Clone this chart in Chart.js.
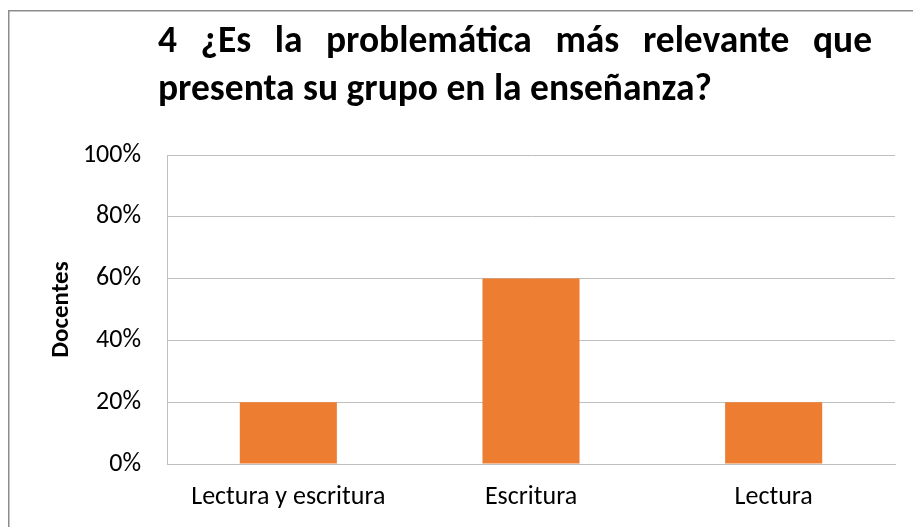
<!DOCTYPE html>
<html>
<head>
<meta charset="utf-8">
<script src="https://cdn.jsdelivr.net/npm/chart.js@4"></script>
<style>
    html, body { margin: 0; padding: 0; background: #fff; }
    #wrap { width: 913px; height: 527px; position: relative; }
</style>
</head>
<body>
<div id="wrap"><canvas id="chart" width="913" height="527"></canvas></div>
<script>
// Chart data
const categories = ['Lectura y escritura', 'Escritura', 'Lectura'];
const docentes = [20, 60, 20];
const yTicks = [0, 20, 40, 60, 80, 100];
const titleLines = ['4 ¿Es la problemática más relevante que', 'presenta su grupo en la enseñanza?'];

const FONT = "Carlito, Calibri, Lato, 'Open Sans', sans-serif";

// frame around the whole chart + justified title
const framePlugin = {
    id: 'frame',
    beforeDraw(chart) {
        const ctx = chart.ctx;
        ctx.save();
        ctx.strokeStyle = '#8c8c8c';
        ctx.lineWidth = 1.5;
        ctx.strokeRect(8.75, 10.75, 1000, 1000);
        ctx.restore();
    },
    afterDraw(chart) {
        const ctx = chart.ctx;
        const left = 158, right = 872;
        ctx.save();
        // fit font so the second line is about as wide as in the original
        let size = 32;
        ctx.font = `bold ${size}px ${FONT}`;
        const w = ctx.measureText(titleLines[1]).width;
        size = size * 554 / w;
        ctx.font = `bold ${size}px ${FONT}`;
        ctx.fillStyle = '#000';
        ctx.textBaseline = 'alphabetic';
        ctx.textAlign = 'left';

        // line 1: justified
        const words = titleLines[0].split(' ');
        const widths = words.map(t => ctx.measureText(t).width);
        const gap = (right - left - widths.reduce((a, b) => a + b, 0)) / (words.length - 1);
        let x = left;
        words.forEach((t, i) => {
            ctx.fillText(t, x, 52);
            x += widths[i] + gap;
        });
        // line 2: left aligned
        ctx.fillText(titleLines[1], left, 100);
        ctx.restore();
    }
};

new Chart(document.getElementById('chart'), {
    type: 'bar',
    data: {
        labels: categories,
        datasets: [{
            label: 'Docentes',
            data: docentes,
            backgroundColor: '#ED7D31',
            borderWidth: 0,
            categoryPercentage: 1,
            barPercentage: 0.4
        }]
    },
    options: {
        responsive: false,
        animation: false,
        layout: { padding: { top: 155, right: 18, left: 0, bottom: 0 } },
        plugins: {
            legend: { display: false },
            title: { display: false },
            tooltip: { enabled: false }
        },
        scales: {
            y: {
                min: 0,
                max: 100,
                afterBuildTicks: s => { s.ticks = yTicks.map(v => ({ value: v })); },
                afterFit: s => { s.width = 167; },
                grid: { color: '#bfbfbf', lineWidth: 1, drawTicks: false },
                border: { display: true, color: '#bfbfbf', width: 1 },
                ticks: {
                    padding: 26,
                    color: '#000',
                    font: { family: FONT, size: 26 },
                    callback: v => v + '%'
                },
                title: {
                    display: true,
                    text: 'Docentes',
                    color: '#000',
                    font: { family: FONT, size: 25, weight: 'bold' },
                    padding: { top: 47, bottom: 0 }
                }
            },
            x: {
                afterFit: s => { s.height = 63; },
                grid: { display: false, drawTicks: false },
                border: { display: true, color: '#bfbfbf', width: 1 },
                ticks: {
                    padding: 18,
                    color: '#000',
                    maxRotation: 0,
                    autoSkip: false,
                    font: { family: FONT, size: 26 }
                }
            }
        }
    },
    plugins: [framePlugin]
});
</script>
</body>
</html>
